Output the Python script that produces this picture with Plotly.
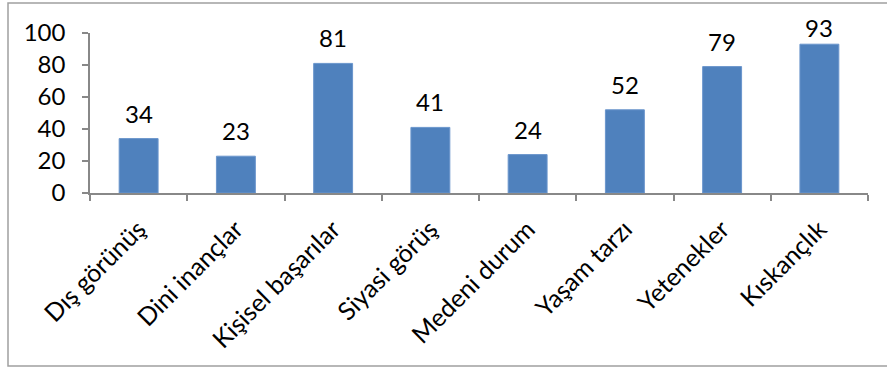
import plotly.graph_objects as go

categories = ["Dış görünüş", "Dini inançlar", "Kişisel başarılar", "Siyasi görüş",
              "Medeni durum", "Yaşam tarzı", "Yetenekler", "Kıskançlık"]
values = [34, 23, 81, 41, 24, 52, 79, 93]
y_ticks = [0, 20, 40, 60, 80, 100]

FONT = "Lato"
W, H = 887, 367
L, R, T, B = 90, 19, 33, 174
pw = W - L - R
ph = H - T - B

fig = go.Figure()
fig.add_trace(go.Bar(
    x=categories, y=values,
    marker=dict(color="#4F81BD", line=dict(color="#6A95CC", width=1)),
    width=0.4, hoverinfo="x+y",
))

for c, v in zip(categories, values):
    bar_top_px = T + (100 - v) / 100 * ph
    shift = min(9, bar_top_px - 44)
    fig.add_annotation(x=c, y=v, text=str(v), showarrow=False,
                       yanchor="bottom", yshift=shift,
                       font=dict(family=FONT, size=24, color="black"))

fig.add_shape(type="rect", xref="paper", yref="paper",
              x0=(8 - L) / pw, x1=(W + 5 - L) / pw,
              y0=-(366 - T - ph) / ph, y1=1 + (T - 3) / ph,
              line=dict(color="#A0A0A0", width=1.5), layer="below")

fig.update_layout(
    width=W, height=H,
    margin=dict(l=L, r=R, t=T, b=B, pad=0, autoexpand=False),
    paper_bgcolor="white", plot_bgcolor="white",
    showlegend=False,
    bargap=0.6,
    font=dict(family=FONT, size=24, color="black"),
    xaxis=dict(
        type="category", tickangle=-45, tickson="boundaries",
        ticks="outside", ticklen=6, tickcolor="#888888", tickwidth=1.5,
        showline=True, linecolor="#888888", linewidth=1.5,
        showgrid=False, ticklabelstandoff=10, automargin=False,
        tickfont=dict(family=FONT, size=25, color="black"),
    ),
    yaxis=dict(
        range=[0, 100], tickvals=y_ticks, ticks="outside", ticklen=6,
        tickcolor="#888888", tickwidth=1.5,
        showline=True, linecolor="#888888", linewidth=1.5,
        showgrid=False, zeroline=False, ticklabelstandoff=12, automargin=False,
        tickfont=dict(family=FONT, size=24, color="black"),
    ),
)

fig.write_html("out.html")
